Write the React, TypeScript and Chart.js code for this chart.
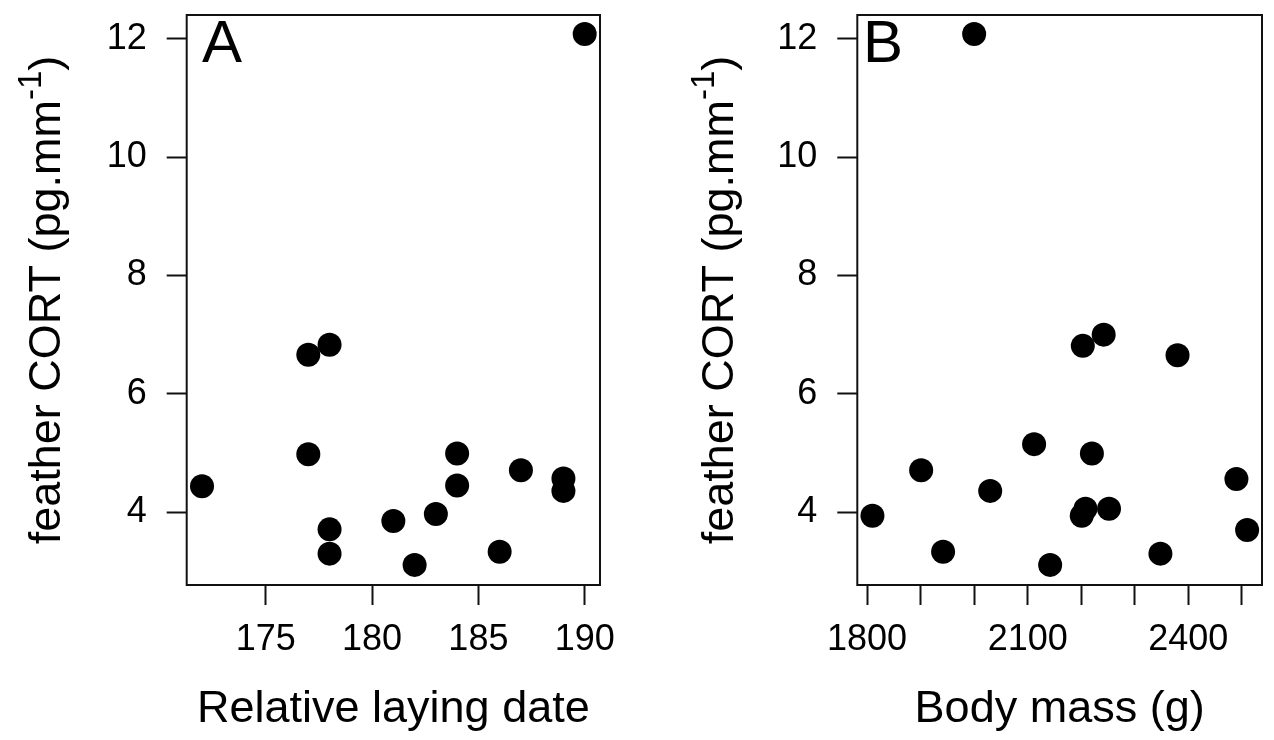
import React, { useEffect, useRef } from 'react';
import { Chart, registerables } from 'chart.js';

Chart.register(...registerables);

// ---------- data ----------
const A_X = [172, 177, 177, 178, 178, 178, 181, 182, 183, 184, 184, 186, 187, 189, 189, 190];
const A_Y = [4.44, 6.66, 4.98, 6.83, 3.71, 3.30, 3.85, 3.11, 3.97, 4.99, 4.45, 3.33, 4.71, 4.57, 4.36, 12.08];

const B_X = [1810, 1901, 1942, 2000, 2030, 2112, 2142, 2201, 2208, 2203, 2220, 2242, 2252, 2348, 2380, 2490, 2510];
const B_Y = [3.94, 4.71, 3.33, 12.08, 4.36, 5.15, 3.11, 3.94, 4.06, 6.81, 4.99, 7.00, 4.06, 3.30, 6.65, 4.56, 3.70];

const A_X_TICKS = [175, 180, 185, 190];
const A_X_LABELED = [175, 180, 185, 190];
const B_X_TICKS = [1800, 1900, 2000, 2100, 2200, 2300, 2400, 2500];
const B_X_LABELED = [1800, 2100, 2400];
const Y_TICKS = [4, 6, 8, 10, 12];

const A_X_RANGE = [171.28, 190.72];
const B_X_RANGE = [1781.7, 2537.8];
const Y_RANGE = [2.77, 12.4];

const A_X_TITLE = 'Relative laying date';
const B_X_TITLE = 'Body mass (g)';
const Y_TITLE_MAIN = 'feather CORT (pg.mm';
const Y_TITLE_SUP = '-1';
const Y_TITLE_END = ')';

// ---------- style ----------
const FONT = '"Liberation Sans", Arial, Helvetica, sans-serif';
const INK = '#111111';
const W = 637;
const H = 740;

const decorPlugin = {
  id: 'panelDecor',
  afterDraw(chart: any, _args: any, opts: any) {
    const { ctx, chartArea: ca } = chart;
    ctx.save();
    // box
    ctx.strokeStyle = INK;
    ctx.lineWidth = 2;
    ctx.strokeRect(ca.left, ca.top, ca.right - ca.left, ca.bottom - ca.top);
    // panel letter
    ctx.fillStyle = '#000';
    ctx.font = `60px ${FONT}`;
    ctx.textAlign = 'left';
    ctx.textBaseline = 'alphabetic';
    ctx.fillText(opts.letter, opts.letterX, opts.letterY);
    // rotated y title with superscript
    const cy = (ca.top + ca.bottom) / 2;
    ctx.translate(opts.yTitleX, cy);
    ctx.rotate(-Math.PI / 2);
    ctx.font = `45px ${FONT}`;
    const w1 = ctx.measureText(Y_TITLE_MAIN).width;
    const w3 = ctx.measureText(Y_TITLE_END).width;
    ctx.font = `33px ${FONT}`;
    const w2 = ctx.measureText(Y_TITLE_SUP).width;
    let x = -(w1 + w2 + w3) / 2;
    ctx.font = `45px ${FONT}`;
    ctx.fillText(Y_TITLE_MAIN, x, 0);
    x += w1;
    ctx.font = `33px ${FONT}`;
    ctx.fillText(Y_TITLE_SUP, x, -19);
    x += w2;
    ctx.font = `45px ${FONT}`;
    ctx.fillText(Y_TITLE_END, x, 0);
    ctx.restore();
  },
};

type PanelProps = {
  xs: number[];
  ys: number[];
  xTicks: number[];
  xLabeled: number[];
  xRange: number[];
  xTitle: string;
  letter: string;
  letterX: number;
  plotLeft: number;
  plotRight: number;
  yTitleX: number;
};

function Panel(p: PanelProps) {
  const ref = useRef<HTMLCanvasElement | null>(null);
  useEffect(() => {
    if (!ref.current) return;
    const points = p.xs.map((x, i) => ({ x, y: p.ys[i] }));
    const plotTop = 15;
    const plotBottom = 585;
    const chart = new Chart(ref.current, {
      type: 'scatter',
      data: {
        datasets: [
          {
            data: points,
            backgroundColor: '#000',
            borderWidth: 0,
            pointRadius: 12,
            pointHoverRadius: 12,
            clip: false as any,
          },
        ],
      },
      plugins: [decorPlugin as any],
      options: {
        responsive: false,
        animation: false,
        events: [],
        devicePixelRatio: 1,
        layout: { padding: { left: 0, top: plotTop, right: W - p.plotRight, bottom: 0 } },
        plugins: {
          legend: { display: false },
          tooltip: { enabled: false },
          panelDecor: { letter: p.letter, letterX: p.letterX, letterY: 62, yTitleX: p.yTitleX },
        } as any,
        scales: {
          x: {
            type: 'linear',
            min: p.xRange[0],
            max: p.xRange[1],
            afterBuildTicks: (s: any) => {
              s.ticks = p.xTicks.map((v) => ({ value: v }));
            },
            afterFit: (s: any) => {
              s.height = H - plotBottom;
              s.paddingLeft = 0;
              s.paddingRight = 0;
              s.paddingTop = 0;
              s.paddingBottom = 0;
            },
            grid: {
              display: true,
              drawOnChartArea: false,
              drawTicks: true,
              tickLength: 20,
              tickWidth: 2,
              tickColor: INK,
            },
            border: { display: false },
            ticks: {
              autoSkip: false,
              maxRotation: 0,
              minRotation: 0,
              padding: 13,
              color: '#000',
              font: { family: FONT, size: 36 },
              callback: (v: any) => (p.xLabeled.includes(Number(v)) ? String(v) : ''),
            },
            title: {
              display: true,
              text: p.xTitle,
              color: '#000',
              font: { family: FONT, size: 45 },
              padding: { top: 0, bottom: 3.5 },
            },
          },
          y: {
            type: 'linear',
            min: Y_RANGE[0],
            max: Y_RANGE[1],
            afterBuildTicks: (s: any) => {
              s.ticks = Y_TICKS.map((v) => ({ value: v }));
            },
            afterFit: (s: any) => {
              s.width = p.plotLeft;
              s.paddingLeft = 0;
              s.paddingRight = 0;
              s.paddingTop = 0;
              s.paddingBottom = 0;
            },
            grid: {
              display: true,
              drawOnChartArea: false,
              drawTicks: true,
              tickLength: 20,
              tickWidth: 2,
              tickColor: INK,
            },
            border: { display: false },
            ticks: {
              autoSkip: false,
              padding: 20,
              color: '#000',
              font: { family: FONT, size: 36 },
              callback: (v: any) => String(v),
            },
          },
        },
      },
    });
    return () => chart.destroy();
  }, []);
  return <canvas ref={ref} width={W} height={H} style={{ display: 'block', width: W, height: H }} />;
}

export default function App() {
  return (
    <div style={{ position: 'fixed', left: 0, top: 0, width: 1274, height: 740, background: '#fff', overflow: 'hidden' }}>
      <div style={{ position: 'absolute', left: 0, top: 0 }}>
        <Panel
          xs={A_X}
          ys={A_Y}
          xTicks={A_X_TICKS}
          xLabeled={A_X_LABELED}
          xRange={A_X_RANGE}
          xTitle={A_X_TITLE}
          letter="A"
          letterX={202}
          plotLeft={186.7}
          plotRight={600}
          yTitleX={60}
        />
      </div>
      <div style={{ position: 'absolute', left: W, top: 0 }}>
        <Panel
          xs={B_X}
          ys={B_Y}
          xTicks={B_X_TICKS}
          xLabeled={B_X_LABELED}
          xRange={B_X_RANGE}
          xTitle={B_X_TITLE}
          letter="B"
          letterX={226}
          plotLeft={220.3}
          plotRight={634.7}
          yTitleX={96}
        />
      </div>
    </div>
  );
}
